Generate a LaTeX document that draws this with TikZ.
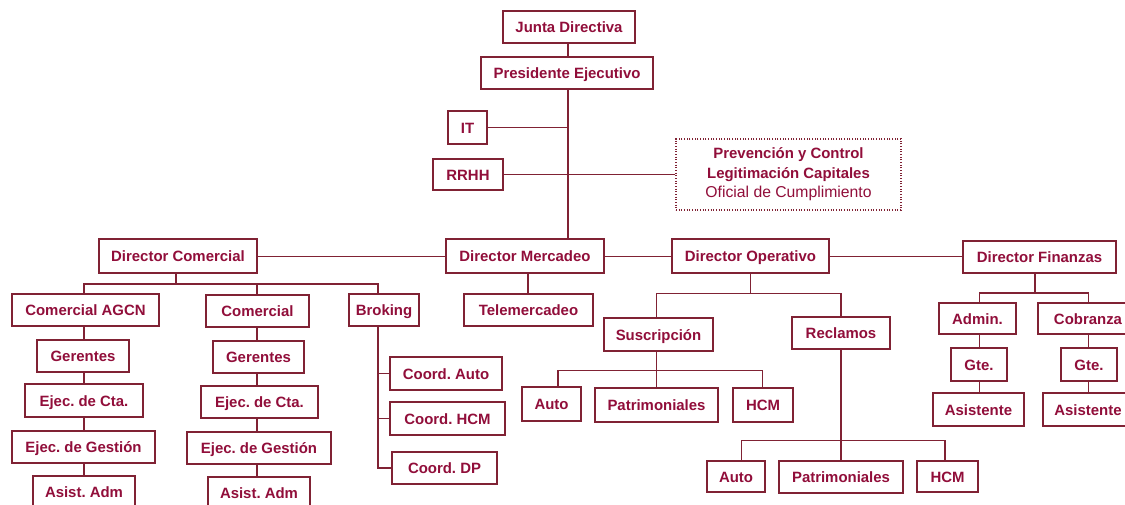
\documentclass[tikz,border=0pt]{standalone}
\usepackage{fontspec}
\setmainfont{Liberation Sans}
\frenchspacing
\begin{document}
\definecolor{chartline}{RGB}{128,34,52}
\definecolor{charttext}{RGB}{145,14,58}
% unit box given by its corners (x1,y1) and (x2,y2), in pixel units
\newcommand\unitbox[6]{%
  \node[unit, minimum width={(#4-#2)*0.75pt}, minimum height={(#5-#3)*0.75pt}]
    (#1) at ({(#2+#4)/2},{(#3+#5)/2}) {#6};}
\begin{tikzpicture}[x=0.75pt,y=-0.75pt,
  unit/.style={rectangle, draw=chartline, line width=1pt, fill=white,
    text=charttext, inner sep=0pt, text height=10pt, text depth=1.5pt,
    font=\fontsize{11.2}{13}\selectfont\bfseries},
  link/.style={draw=chartline, line width=1pt},
  note/.style={rectangle, draw=chartline, line width=0.8pt,
    dash pattern=on 0.8pt off 1.2pt, fill=white, text=charttext,
    inner sep=0pt, align=center, font=\fontsize{11.2}{14.6}\selectfont}]
\path[use as bounding box, clip] (0,0) rectangle (1125,504);

% ---- top management
\unitbox{junta}{503}{11}{635}{43}{Junta Directiva}
\unitbox{pres}{481}{57}{653}{89}{Presidente Ejecutivo}
\unitbox{it}{448}{111}{487}{144}{IT}
\unitbox{rrhh}{433}{159}{503}{190}{RRHH}
\node[note, minimum width={225*0.75pt}, minimum height={71*0.75pt}] (prev) at (788.5,174.5)
  {\bfseries Prevención y Control\\ \bfseries Legitimación Capitales\\
   {\fontsize{11.8}{14.6}\selectfont Oficial de Cumplimiento}};

% ---- directors
\unitbox{dcom}{99}{239}{257}{273}{Director Comercial}
\unitbox{dmer}{446}{239}{604}{273}{Director Mercadeo}
\unitbox{dop}{672}{239}{829}{273}{Director Operativo}
\unitbox{dfin}{963}{241}{1116}{273}{Director Finanzas}

% ---- commercial
\unitbox{cagcn}{12}{294}{159}{326}{Comercial AGCN}
\unitbox{com}{206}{295}{309}{327}{Comercial}
\unitbox{brok}{349}{294}{419}{326}{Broking}
\unitbox{ger1}{37}{340}{129}{372}{Gerentes}
\unitbox{ger2}{213}{341}{304}{373}{Gerentes}
\unitbox{cta1}{25}{384}{143}{417}{Ejec. de Cta.}
\unitbox{cta2}{201}{386}{318}{418}{Ejec. de Cta.}
\unitbox{ges1}{12}{431}{155}{463}{Ejec. de Gestión}
\unitbox{ges2}{187}{432}{331}{464}{Ejec. de Gestión}
\unitbox{asi1}{33}{476}{135}{508}{Asist. Adm}
\unitbox{asi2}{208}{477}{310}{509}{Asist. Adm}
\unitbox{ca}{390}{357}{502}{390}{Coord. Auto}
\unitbox{ch}{390}{402}{505}{435}{Coord. HCM}
\unitbox{cd}{392}{452}{497}{484}{Coord. DP}

% ---- marketing
\unitbox{tele}{464}{294}{593}{326}{Telemercadeo}

% ---- operations
\unitbox{sus}{604}{318}{713}{351}{Suscripción}
\unitbox{rec}{792}{317}{890}{349}{Reclamos}
\unitbox{sauto}{522}{387}{581}{421}{Auto}
\unitbox{spat}{595}{388}{718}{422}{Patrimoniales}
\unitbox{shcm}{733}{388}{793}{422}{HCM}
\unitbox{rauto}{707}{461}{765}{492}{Auto}
\unitbox{rpat}{779}{461}{903}{493}{Patrimoniales}
\unitbox{rhcm}{917}{461}{978}{492}{HCM}

% ---- finance
\unitbox{adm}{939}{303}{1016}{334}{Admin.}
\unitbox{cob}{1038}{303}{1138}{334}{Cobranza}
\unitbox{gte1}{951}{348}{1007}{381}{Gte.}
\unitbox{gte2}{1061}{348}{1117}{381}{Gte.}
\unitbox{asa}{933}{393}{1024}{426}{Asistente}
\unitbox{asc}{1043}{393}{1133}{426}{Asistente}

% ---- line positions
\coordinate (xP) at (568,0);
\coordinate (yM) at (0,256.5);
\coordinate (xCom) at (176,0);
\coordinate (busCom) at (0,284);
\coordinate (xA) at (84,0);
\coordinate (xB) at (257,0);
\coordinate (xBr) at (378,0);
\coordinate (xT) at (528,0);
\coordinate (xO) at (750.7,0);
\coordinate (busOp) at (0,293.3);
\coordinate (xS) at (656.7,0);
\coordinate (xR) at (841,0);
\coordinate (busSus) at (0,370.7);
\coordinate (xSa) at (558,0);
\coordinate (xSh) at (762.7,0);
\coordinate (busRec) at (0,440.7);
\coordinate (xRa) at (741.7,0);
\coordinate (xRh) at (945,0);
\coordinate (xF) at (1035,0);
\coordinate (busFin) at (0,293);
\coordinate (xAd) at (979.3,0);
\coordinate (xCo) at (1088.3,0);

% ---- connectors
\draw[link] (junta.south -| xP) -- (pres.north -| xP);
\draw[link] (pres.south -| xP) -- (dmer.north -| xP);
\draw[link] (it.east) -- (it.east -| xP);
\draw[link] (rrhh.east) -- (prev.west);
\draw[link] (dcom.east |- yM) -- (dmer.west |- yM);
\draw[link] (dmer.east |- yM) -- (dop.west |- yM);
\draw[link] (dop.east |- yM) -- (dfin.west |- yM);

% commercial branch
\draw[link] (dcom.south -| xCom) -- (xCom |- busCom);
\draw[link] (cagcn.north -| xA) |- (busCom -| xBr) -- (brok.north -| xBr);
\draw[link] (com.north -| xB) -- (busCom -| xB);
\foreach \a/\b in {cagcn/ger1, ger1/cta1, cta1/ges1, ges1/asi1}
  \draw[link] (\a.south -| xA) -- (\b.north -| xA);
\foreach \a/\b in {com/ger2, ger2/cta2, cta2/ges2, ges2/asi2}
  \draw[link] (\a.south -| xB) -- (\b.north -| xB);
\draw[link] (brok.south -| xBr) |- (cd.west);
\draw[link] (ca.west) -- (ca.west -| xBr);
\draw[link] (ch.west) -- (ch.west -| xBr);

% marketing branch
\draw[link] (dmer.south -| xT) -- (tele.north -| xT);

% operations branch
\draw[link] (dop.south -| xO) -- (xO |- busOp);
\draw[link] (sus.north -| xS) |- (busOp -| xR) -- (rec.north -| xR);
\draw[link] (sus.south -| xS) -- (spat.north -| xS);
\draw[link] (sauto.north -| xSa) |- (busSus -| xSh) -- (shcm.north -| xSh);
\draw[link] (rec.south -| xR) -- (rpat.north -| xR);
\draw[link] (rauto.north -| xRa) |- (busRec -| xRh) -- (rhcm.north -| xRh);

% finance branch
\draw[link] (dfin.south -| xF) -- (xF |- busFin);
\draw[link] (adm.north -| xAd) |- (busFin -| xCo) -- (cob.north -| xCo);
\foreach \a/\b in {adm/gte1, gte1/asa}
  \draw[link] (\a.south -| xAd) -- (\b.north -| xAd);
\foreach \a/\b in {cob/gte2, gte2/asc}
  \draw[link] (\a.south -| xCo) -- (\b.north -| xCo);
\end{tikzpicture}
\end{document}
